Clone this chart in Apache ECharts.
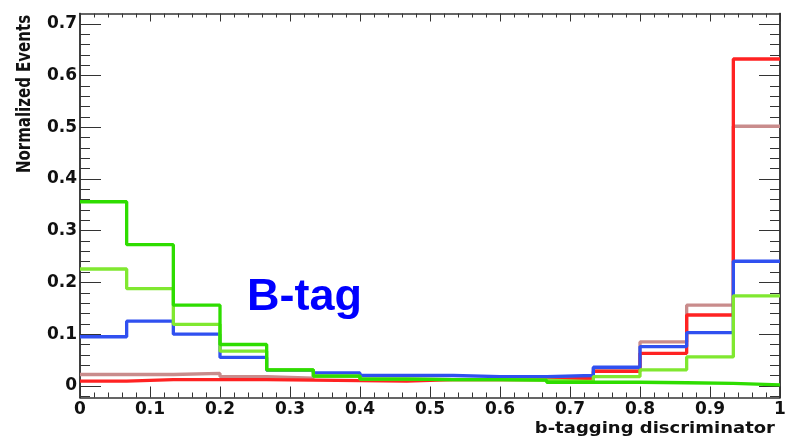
<!DOCTYPE html>
<html>
<head>
<meta charset="utf-8">
<script src="https://cdn.jsdelivr.net/npm/echarts@6/dist/echarts.min.js"></script>
<style>
  html, body { margin: 0; padding: 0; background: #fff; }
  #main { width: 789px; height: 438px; }
</style>
</head>
<body>
<div id="main"></div>
<script>
// bins: 15 equal bins on [0, 1]
var binCount = 15;
var xMin = 0, xMax = 1;

// normalized events per bin
var redVals = [0.009, 0.012, 0.012, 0.012, 0.011, 0.010, 0.009, 0.012, 0.012, 0.012, 0.015, 0.028, 0.063, 0.137, 0.632];
var rosyVals = [0.022, 0.022, 0.024, 0.018, 0.015, 0.019, 0.013, 0.012, 0.012, 0.012, 0.015, 0.034, 0.085, 0.156, 0.502];
var blueVals = [0.095, 0.125, 0.100, 0.055, 0.030, 0.025, 0.020, 0.020, 0.018, 0.018, 0.020, 0.036, 0.076, 0.103, 0.241];
var greenVals = [0.356, 0.273, 0.156, 0.080, 0.031, 0.019, 0.013, 0.012, 0.012, 0.011, 0.007, 0.007, 0.006, 0.005, 0.002];
var lightGreenVals = [0.226, 0.188, 0.119, 0.067, 0.031, 0.019, 0.013, 0.012, 0.012, 0.011, 0.008, 0.018, 0.031, 0.056, 0.174];

// tick values
var yMajorTicks = [0, 0.1, 0.2, 0.3, 0.4, 0.5, 0.6, 0.7];
var yMinorTicks = [-0.02, 0.02, 0.04, 0.06, 0.08, 0.12, 0.14, 0.16, 0.18, 0.22, 0.24, 0.26, 0.28,
                   0.32, 0.34, 0.36, 0.38, 0.42, 0.44, 0.46, 0.48, 0.52, 0.54, 0.56, 0.58,
                   0.62, 0.64, 0.66, 0.68];

var myChart = echarts.init(document.getElementById('main'));

// histogram -> step points (left edge of each bin, plus the right end)
function histPoints(vals) {
    var w = (xMax - xMin) / binCount;
    var pts = [];
    for (var i = 0; i < vals.length; i++) {
        pts.push([xMin + i * w, vals[i]]);
    }
    pts.push([xMax, vals[vals.length - 1]]);
    return pts;
}

function histSeries(vals, color) {
    return {
        type: 'line',
        step: 'end',
        symbol: 'none',
        xAxisIndex: 0,
        yAxisIndex: 0,
        lineStyle: { color: color, width: 3.3 },
        data: histPoints(vals)
    };
}

var frameColor = '#333';
var labelFont = { fontFamily: 'DejaVu Sans', fontWeight: 'bold', fontSize: 17, color: '#111' };

var yBase = {
    type: 'value',
    min: -0.0225,
    max: 0.72,
    splitLine: { show: false },
    axisLine: { show: true, onZero: false, lineStyle: { color: frameColor, width: 1.5 } }
};

var option = {
    animation: false,
    grid: { left: 80, right: 9, top: 13.5, bottom: 40.5 },
    xAxis: [{
        type: 'value',
        position: 'bottom',
        min: xMin,
        max: xMax,
        interval: 0.1,
        splitLine: { show: false },
        axisLine: { onZero: false, lineStyle: { color: frameColor, width: 1.5 } },
        axisTick: { inside: true, length: 11, lineStyle: { color: frameColor } },
        minorTick: { show: true, splitNumber: 5, length: 5, lineStyle: { color: frameColor } },
        axisLabel: Object.assign({ margin: 4, formatter: function (v) { return String(+v.toFixed(1)); } }, labelFont)
    }, {
        type: 'value',
        position: 'top',
        min: xMin,
        max: xMax,
        interval: 0.1,
        splitLine: { show: false },
        axisLine: { onZero: false, lineStyle: { color: frameColor, width: 1.5 } },
        axisTick: { inside: true, length: 8, lineStyle: { color: frameColor } },
        minorTick: { show: true, splitNumber: 5, length: 4, lineStyle: { color: frameColor } },
        axisLabel: { show: false }
    }],
    yAxis: [
        Object.assign({}, yBase, {
            position: 'left',
            axisTick: { inside: true, length: 21, customValues: yMajorTicks, lineStyle: { color: frameColor } },
            axisLabel: Object.assign({ margin: 3, customValues: yMajorTicks,
                formatter: function (v) { return String(+v.toFixed(1)); } }, labelFont)
        }),
        Object.assign({}, yBase, {
            position: 'right',
            axisTick: { inside: true, length: 21, customValues: yMajorTicks, lineStyle: { color: frameColor } },
            axisLabel: { show: false }
        }),
        Object.assign({}, yBase, {
            position: 'left',
            axisTick: { inside: true, length: 10, customValues: yMinorTicks, lineStyle: { color: frameColor } },
            axisLabel: { show: false }
        }),
        Object.assign({}, yBase, {
            position: 'right',
            axisTick: { inside: true, length: 10, customValues: yMinorTicks, lineStyle: { color: frameColor } },
            axisLabel: { show: false }
        })
    ],
    series: [
        histSeries(rosyVals, '#c98c8c'),
        histSeries(redVals, '#ff2222'),
        histSeries(blueVals, '#3050f0'),
        histSeries(lightGreenVals, '#80e830'),
        histSeries(greenVals, '#2edd00')
    ],
    graphic: [{
        type: 'text',
        x: 25,
        y: 94,
        rotation: Math.PI / 2,
        scaleY: 1.3,
        style: {
            text: 'Normalized Events',
            fill: '#111',
            fontFamily: 'DejaVu Sans',
            fontWeight: 'bold',
            fontSize: 15,
            align: 'center',
            verticalAlign: 'middle'
        }
    }, {
        type: 'text',
        x: 775,
        y: 429,
        scaleX: 1.2,
        style: {
            text: 'b-tagging discriminator',
            fill: '#111',
            fontFamily: 'DejaVu Sans',
            fontWeight: 'bold',
            fontSize: 15,
            align: 'right',
            verticalAlign: 'middle'
        }
    }, {
        type: 'text',
        x: 247,
        y: 298,
        style: {
            text: 'B-tag',
            fill: '#0000ff',
            fontFamily: 'Liberation Sans',
            fontWeight: 'bold',
            fontSize: 45,
            align: 'left',
            verticalAlign: 'middle'
        }
    }]
};

myChart.setOption(option);
</script>
</body>
</html>
